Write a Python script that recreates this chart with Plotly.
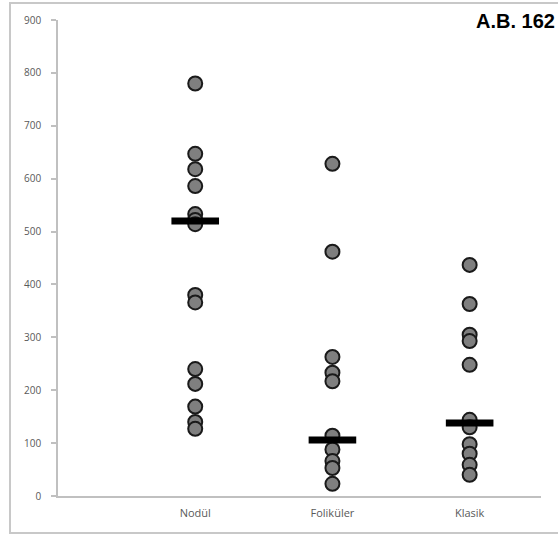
import plotly.graph_objects as go

categories = ["Nodül", "Foliküler", "Klasik"]
cat_pos = [1, 2, 3]

nodul = [780, 647, 618, 586, 533, 522, 514, 380, 366, 240, 212, 169, 140, 127]
folikuler = [628, 462, 263, 233, 217, 114, 88, 66, 53, 23]
klasik = [437, 363, 305, 293, 248, 144, 130, 98, 80, 59, 40]
medians = [520, 106, 138]

y_ticks = [0, 100, 200, 300, 400, 500, 600, 700, 800, 900]
title_text = "A.B. 162"

fig = go.Figure()
for pos, vals in zip(cat_pos, [nodul, folikuler, klasik]):
    fig.add_trace(go.Scatter(
        x=[pos] * len(vals), y=vals, mode="markers",
        marker=dict(size=14, color="#7f7f7f", line=dict(color="#1a1a1a", width=2)),
        showlegend=False, hoverinfo="y"))

fig.add_trace(go.Scatter(
    x=cat_pos, y=medians, mode="markers",
    marker=dict(symbol="line-ew", size=34, line=dict(color="black", width=7)),
    showlegend=False, hoverinfo="y"))

fig.update_layout(
    width=558, height=537,
    margin=dict(l=58, r=17, t=20, b=41),
    paper_bgcolor="white", plot_bgcolor="white",
    font=dict(family="Open Sans", color="#595959", size=10),
    xaxis=dict(range=[0, 3.52], tickvals=cat_pos, ticktext=categories,
               showgrid=False, zeroline=False, showline=True,
               linecolor="#c0c0c0", linewidth=1.5, ticks="",
               ticklabelstandoff=6,
               tickfont=dict(size=11, color="#595959")),
    yaxis=dict(range=[0, 900], tickvals=y_ticks, showgrid=False, zeroline=False,
               showline=True, linecolor="#c0c0c0", linewidth=1.5,
               ticks="outside", ticklen=5, tickcolor="#c0c0c0", tickwidth=1.5,
               ticklabelstandoff=8,
               tickfont=dict(size=10, color="#595959")),
    shapes=[dict(type="rect", xref="paper", yref="paper",
                 x0=-0.0994, x1=1.06, y0=-0.0777, y1=1.0357,
                 line=dict(color="#c8c8c8", width=2), fillcolor="rgba(0,0,0,0)",
                 layer="below")],
    annotations=[dict(text="<b>" + title_text + "</b>", xref="paper", yref="paper",
                      x=1.033, y=1.025, xanchor="right", yanchor="top", showarrow=False,
                      font=dict(family="Liberation Sans", size=20, color="black"))],
)

fig.write_html("out.html")
